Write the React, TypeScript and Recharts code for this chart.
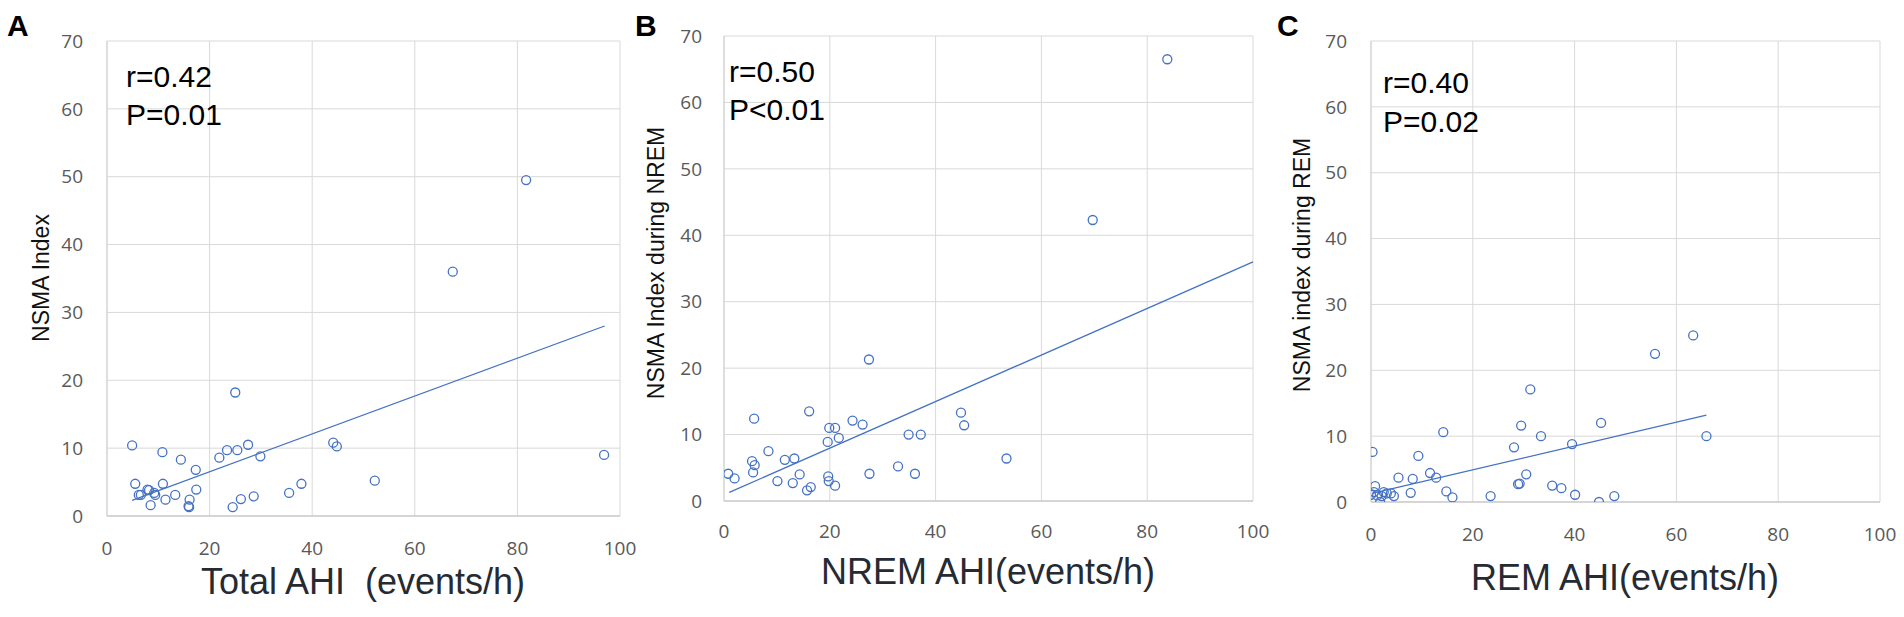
import { CartesianGrid, ReferenceLine, Scatter, ScatterChart, XAxis, YAxis } from 'recharts';

// Panel A: total AHI vs NSMA index
const totalAhi = [4.9, 5.5, 6.2, 6.6, 7.9, 8.2, 8.5, 9.2, 9.4, 10.8, 10.9, 11.4, 13.3, 14.4, 16.1, 15.9, 16.0, 17.3, 17.4, 21.9, 23.4, 25.0, 25.4, 24.5, 26.1, 27.5, 28.6, 29.9, 35.5, 37.9, 44.1, 44.8, 52.2, 67.4, 81.7, 96.9];
const nsmaIndex = [10.4, 4.75, 3.1, 3.1, 3.9, 3.8, 1.6, 3.4, 3.1, 9.4, 4.75, 2.4, 3.1, 8.3, 2.4, 1.45, 1.3, 6.8, 3.9, 8.6, 9.7, 18.2, 9.7, 1.3, 2.5, 10.5, 2.9, 8.8, 3.4, 4.75, 10.8, 10.25, 5.2, 36.0, 49.5, 9.0];
const trendA = [{ x: 4.9, y: 2.3 }, { x: 97, y: 28.0 }];

// Panel B: NREM AHI vs NSMA index during NREM
const nremAhi = [0.8, 2.0, 5.7, 5.3, 5.8, 5.5, 8.4, 10.1, 11.5, 13.0, 13.3, 14.3, 15.7, 16.4, 16.1, 19.6, 19.7, 19.8, 19.9, 21.0, 21.0, 21.7, 24.3, 26.2, 27.4, 27.5, 32.9, 34.9, 36.1, 37.2, 44.8, 45.4, 53.4, 69.7, 83.8];
const nsmaNrem = [4.1, 3.4, 12.4, 6.0, 5.4, 4.3, 7.5, 3.0, 6.2, 2.7, 6.4, 4.0, 1.6, 2.1, 13.5, 8.9, 3.7, 3.0, 11.0, 11.0, 2.3, 9.5, 12.1, 11.5, 21.3, 4.1, 5.2, 10.0, 4.1, 10.0, 13.3, 11.4, 6.4, 42.3, 66.5];
const trendB = [{ x: 1, y: 1.3 }, { x: 100, y: 36.0 }];

// Panel C: REM AHI vs NSMA index during REM
const remAhi = [0.3, 0.0, 0.8, 0.6, 1.2, 1.8, 2.1, 2.5, 3.1, 3.9, 4.5, 5.4, 7.8, 8.2, 9.3, 11.6, 12.8, 14.2, 14.8, 16.0, 23.5, 28.1, 28.9, 29.2, 29.5, 30.5, 31.3, 33.4, 35.6, 37.4, 39.5, 40.1, 44.8, 45.2, 47.8, 55.8, 63.3, 65.9];
const nsmaRem = [7.6, 1.1, 2.4, 1.5, 1.0, 0.0, 0.9, 1.5, 1.3, 1.3, 0.9, 3.7, 1.4, 3.5, 7.0, 4.4, 3.7, 10.6, 1.6, 0.7, 0.9, 8.3, 2.7, 2.8, 11.6, 4.2, 17.1, 10.0, 2.5, 2.1, 8.8, 1.1, 0.0, 12.0, 0.9, 22.5, 25.3, 10.0];
const trendC = [{ x: 0.2, y: 1.3 }, { x: 65.9, y: 13.2 }];

const xTicks = [0, 20, 40, 60, 80, 100];
const yTicks = [0, 10, 20, 30, 40, 50, 60, 70];

const BLUE = '#4472C4';
const tickStyle = { fill: '#595959', fontSize: 19, fontFamily: '"Open Sans", sans-serif' };

function zip(xs: number[], ys: number[]) {
  return xs.map((x, i) => ({ x, y: ys[i] }));
}

const OpenCircle = (props: any) => {
  const { cx, cy } = props;
  if (cx == null || cy == null) return <g />;
  return <circle cx={cx} cy={cy} r={4.5} fill="none" stroke={BLUE} strokeWidth={1.3} />;
};

interface PanelProps {
  left: number;
  width: number;
  margin: { top: number; right: number; bottom: number; left: number };
  xTickGap: number;
  yTickGap: number;
  points: { x: number; y: number }[];
  trend: { x: number; y: number }[];
}

function Panel({ left, width, margin, xTickGap, yTickGap, points, trend }: PanelProps) {
  return (
    <div style={{ position: 'absolute', left, top: 0 }}>
      <ScatterChart width={width} height={617} margin={margin}>
        <CartesianGrid stroke="#d9d9d9" strokeWidth={1} />
        <XAxis
          type="number"
          dataKey="x"
          domain={[0, 100]}
          ticks={xTicks}
          interval={0}
          height={40}
          tickLine={false}
          tickSize={0}
          tickMargin={xTickGap}
          axisLine={{ stroke: '#bfbfbf' }}
          tick={tickStyle}
          allowDataOverflow
        />
        <YAxis
          type="number"
          dataKey="y"
          domain={[0, 70]}
          ticks={yTicks}
          interval={0}
          width={60}
          tickLine={false}
          tickSize={0}
          tickMargin={yTickGap}
          axisLine={{ stroke: '#d0d0d0' }}
          tick={tickStyle}
          allowDataOverflow
        />
        <ReferenceLine segment={trend} stroke={BLUE} strokeWidth={1.3} ifOverflow="visible" />
        <Scatter data={points} shape={OpenCircle} isAnimationActive={false} />
      </ScatterChart>
    </div>
  );
}

const titleFont = '"Liberation Sans", Arial, sans-serif';

export default function App() {
  return (
    <div style={{ position: 'absolute', left: 0, top: 0, width: 1904, height: 617, background: '#fff' }}>
      <Panel
        left={0}
        width={640}
        margin={{ top: 41, right: 20, bottom: 61, left: 47 }}
        xTickGap={26}
        yTickGap={24}
        points={zip(totalAhi, nsmaIndex)}
        trend={trendA}
      />
      <Panel
        left={640}
        width={650}
        margin={{ top: 36, right: 37, bottom: 76, left: 24 }}
        xTickGap={24}
        yTickGap={22}
        points={zip(nremAhi, nsmaNrem)}
        trend={trendB}
      />
      <Panel
        left={1260}
        width={644}
        margin={{ top: 41, right: 24, bottom: 75, left: 51 }}
        xTickGap={26}
        yTickGap={24}
        points={zip(remAhi, nsmaRem)}
        trend={trendC}
      />
      <svg
        width={1904}
        height={617}
        style={{ position: 'absolute', left: 0, top: 0, pointerEvents: 'none' }}
        fontFamily={titleFont}
      >
        {/* panel letters */}
        <text x={7} y={36} fontSize={30} fontWeight="bold" fill="#000">A</text>
        <text x={635} y={36} fontSize={30} fontWeight="bold" fill="#000">B</text>
        <text x={1277} y={36} fontSize={30} fontWeight="bold" fill="#000">C</text>

        {/* correlation notes */}
        <text x={126} y={87} fontSize={30} fill="#000">r=0.42</text>
        <text x={126} y={125} fontSize={30} fill="#000">P=0.01</text>
        <text x={729} y={82} fontSize={30} fill="#000">r=0.50</text>
        <text x={729} y={120} fontSize={30} fill="#000">P&lt;0.01</text>
        <text x={1383} y={93} fontSize={30} fill="#000">r=0.40</text>
        <text x={1383} y={132} fontSize={30} fill="#000">P=0.02</text>

        {/* y axis titles */}
        <text x={41} y={278} fontSize={23} fill="#111" textAnchor="middle" dominantBaseline="central" transform="rotate(-90 41 278)">NSMA Index</text>
        <text x={656} y={263} fontSize={23} fill="#111" textAnchor="middle" dominantBaseline="central" transform="rotate(-90 656 263)">NSMA Index during NREM</text>
        <text x={1302} y={265} fontSize={23} fill="#111" textAnchor="middle" dominantBaseline="central" transform="rotate(-90 1302 265)">NSMA index during REM</text>

        {/* x axis titles */}
        <text x={363} y={594} fontSize={36} fill="#262b33" textAnchor="middle" xmlSpace="preserve">Total AHI  (events/h)</text>
        <text x={988} y={584} fontSize={36} fill="#262b33" textAnchor="middle">NREM AHI(events/h)</text>
        <text x={1625} y={590} fontSize={36} fill="#262b33" textAnchor="middle">REM AHI(events/h)</text>
      </svg>
    </div>
  );
}
